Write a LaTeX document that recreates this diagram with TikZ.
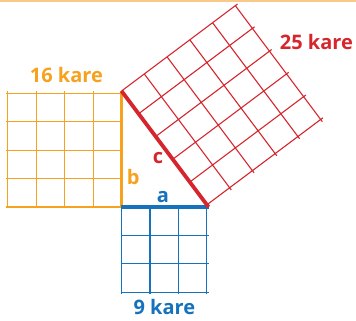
\documentclass[tikz,border=0pt]{standalone}
\usepackage{fontspec}
\setmainfont{Open Sans}
\usepackage{tikz}
\usetikzlibrary{positioning}
\definecolor{naranja}{HTML}{F6A21E}
\definecolor{rojo}{HTML}{D6262D}
\definecolor{azul}{HTML}{1672BC}
\definecolor{borde}{HTML}{F9C98A}
\tikzset{cuadricula/.style={line width=1.1pt},
         lado/.style={line width=3.8pt},
         rotulo/.style={font=\fontsize{20}{23}\selectfont\bfseries, inner sep=0pt}}

\begin{document}
\begin{tikzpicture}[x=29pt, y=29pt]
            \useasboundingbox (-4.19,-3.931) rectangle (8.086,7.138);
            \draw[borde, line width=1.5pt] (-4.19,7.10) -- (8.086,7.10);

            \coordinate (C) at (0,0);
            \coordinate (A) at (3,0);
            \coordinate (B) at (0,4);

            % cuadrados
            \draw[cuadricula, naranja] (-4,0) grid (0,4);
            \draw[cuadricula, azul] (0,-3) grid (3,0);
            \begin{scope}[shift={(B)}, rotate=-53.13]
                \draw[cuadricula, rojo] (0,0) grid (5,5);
            \end{scope}

            % lados del triangulo
            \draw[lado, naranja] (C) -- (B);
            \draw[lado, azul] ([xshift=-0.9pt]C) -- ([xshift=0.9pt]A);
            \draw[lado, rojo] (B) -- (A);

            \node[rotulo, naranja] (n16) at (-1.9,4.55) {16 kare};
            \node[rotulo, rojo] (n25) at (6.72,5.69) {25 kare};
            \node[rotulo, azul] (n9) at (1.48,-3.45) {9 kare};
            \node[rotulo, azul] (la) at (1.43,0.34) {a};
            \node[rotulo, naranja] (lb) at (0.40,1.03) {b};
            \node[rotulo, rojo] (lc) at (1.26,1.69) {c};
        \end{tikzpicture}
\end{document}
